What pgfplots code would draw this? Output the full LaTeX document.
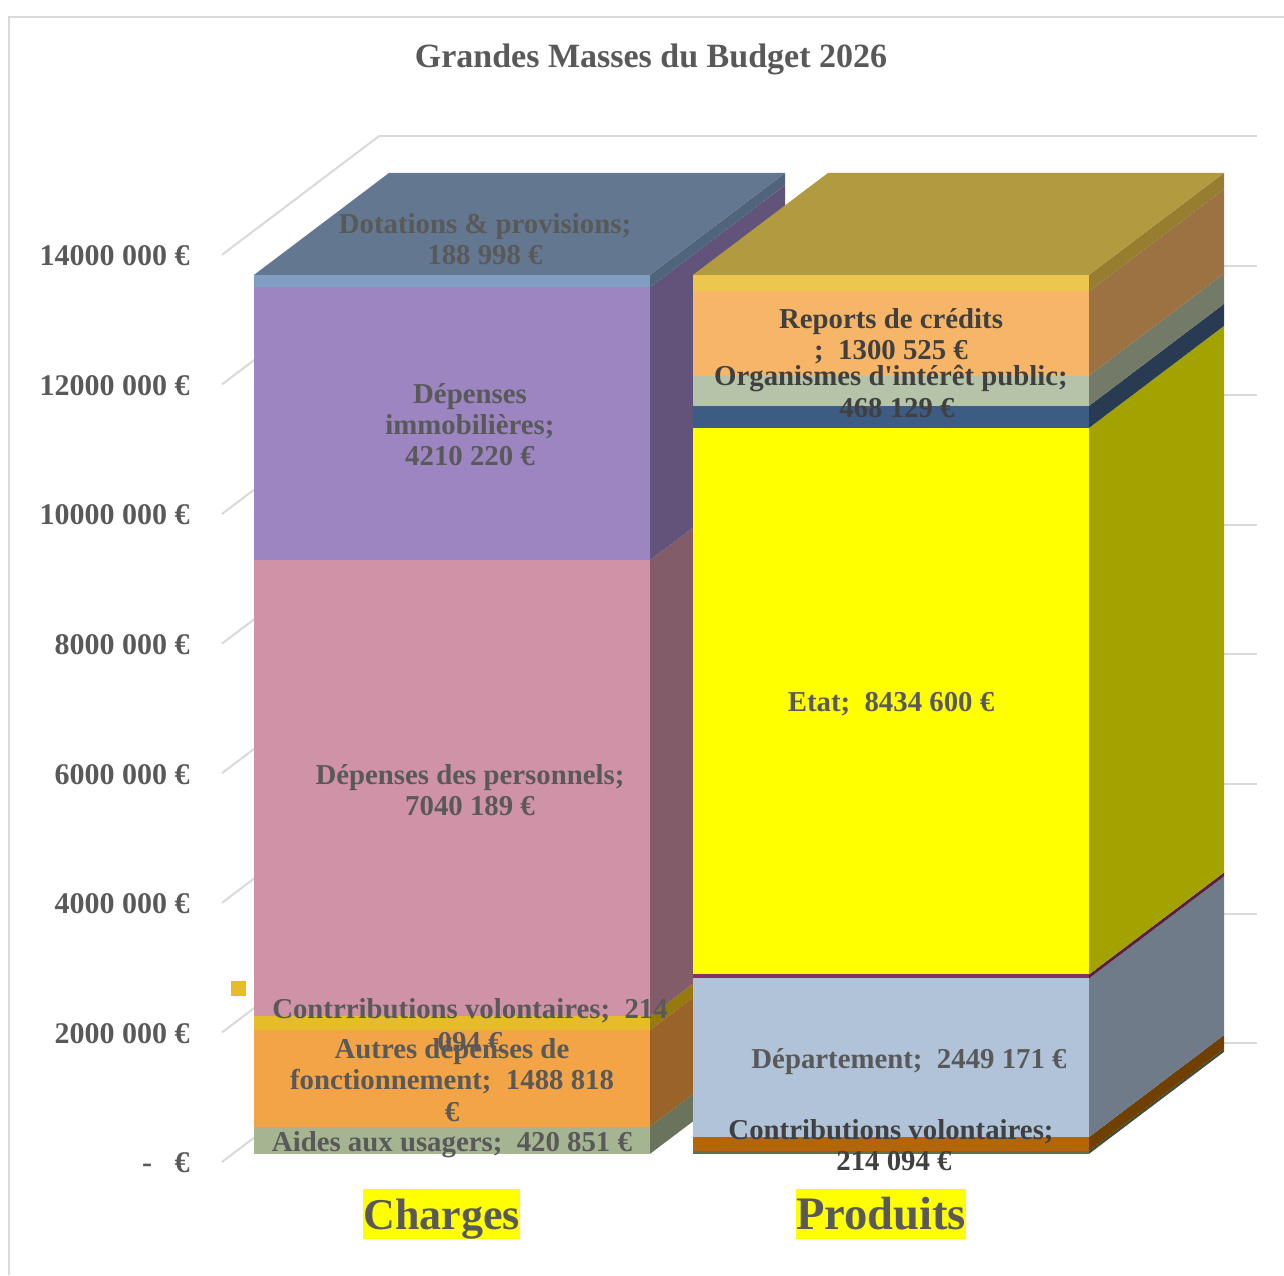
\documentclass[border=0pt]{standalone}
\usepackage{fontspec}
\setmainfont{Liberation Serif}
\newfontfamily\plainf{Liberation Serif}
\usepackage{pgfplots}
\pgfplotsset{compat=1.18}

\definecolor{txt}{HTML}{595959}
\definecolor{txtd}{HTML}{404040}
\definecolor{wall}{HTML}{D9D9D9}
% Charges, front / side
\definecolor{aidesF}{HTML}{A5B592}\definecolor{aidesS}{HTML}{6A735C}
\definecolor{autresF}{HTML}{F3A447}\definecolor{autresS}{HTML}{996329}
\definecolor{contrF}{HTML}{E7BC29}\definecolor{contrS}{HTML}{96790F}
\definecolor{persF}{HTML}{D092A7}\definecolor{persS}{HTML}{835C69}
\definecolor{immoF}{HTML}{9C85C0}\definecolor{immoS}{HTML}{62537A}
\definecolor{dotF}{HTML}{809EC2}\definecolor{dotS}{HTML}{50647B}
\definecolor{dotT}{HTML}{637890}
% Produits, front / side
\definecolor{ptF}{HTML}{5D7350}\definecolor{ptS}{HTML}{3E4D35}
\definecolor{volF}{HTML}{B36507}\definecolor{volS}{HTML}{703F02}
\definecolor{depF}{HTML}{B1C3D9}\definecolor{depS}{HTML}{707B8A}
\definecolor{rouF}{HTML}{8B2F62}\definecolor{rouS}{HTML}{5A1F3F}
\definecolor{etaF}{HTML}{FFFF00}\definecolor{etaS}{HTML}{A3A300}
\definecolor{bleF}{HTML}{3D5C84}\definecolor{bleS}{HTML}{283B53}
\definecolor{orgF}{HTML}{B5C3A9}\definecolor{orgS}{HTML}{737B68}
\definecolor{repF}{HTML}{F7B568}\definecolor{repS}{HTML}{9C7242}
\definecolor{hauF}{HTML}{EDC64F}\definecolor{hauS}{HTML}{967D30}
\definecolor{hauT}{HTML}{B19A3F}

% one stacked block: x left, x right, bottom, top (millions), front colour, side colour
\newcommand{\seg}[6]{%
  \addplot3[fill=#6,draw=none,forget plot] coordinates {(#2,0.08,#3)(#2,1.08,#3)(#2,1.08,#4)(#2,0.08,#4)} -- cycle;
  \addplot3[fill=#5,draw=none,forget plot] coordinates {(#1,0.08,#3)(#2,0.08,#3)(#2,0.08,#4)(#1,0.08,#4)} -- cycle;
}
\newcommand{\topf}[4]{%
  \addplot3[fill=#4,draw=none,forget plot] coordinates {(#1,0.08,#3)(#2,0.08,#3)(#2,1.08,#3)(#1,1.08,#3)} -- cycle;
}
% text line placed by its centre in image pixels
\newcommand{\lab}[4]{\node[anchor=base,inner sep=0pt,text=#3,font=\fontsize{14.4}{16}\selectfont\bfseries] at (#1,#2+10) {#4};}

\begin{document}
\begin{tikzpicture}
\path[use as bounding box] (-111pt,-56.5pt) rectangle (531pt,581pt);
\begin{axis}[
  at={(0,0)}, anchor=origin,
  x={(0.5pt,0pt)}, y={(67.5pt,51pt)}, z={(0pt,32.4pt)},
  xmin=0, xmax=878, ymin=0, ymax=1.165, zmin=0, zmax=14,
  clip=false,
  axis line style={draw=none},
  xtick=\empty, ytick=\empty,
  ztick={0,2,4,6,8,10,12,14},
  zticklabels={-\ \ \ €,2000 000 €,4000 000 €,6000 000 €,8000 000 €,10000 000 €,12000 000 €,14000 000 €},
  zticklabel style={anchor=east,xshift=-16pt,yshift=-0.5pt,font=\fontsize{15}{16}\selectfont\bfseries,text=txt,inner sep=0pt},
  major tick length=0pt,
  zmajorgrids,
  major grid style={draw=wall,line width=1pt},
  no markers,
]
% Charges
\seg{21.2}{417.2}{0}{0.420851}{aidesF}{aidesS}
\seg{21.2}{417.2}{0.420851}{1.909669}{autresF}{autresS}
\seg{21.2}{417.2}{1.909669}{2.123763}{contrF}{contrS}
\seg{21.2}{417.2}{2.123763}{9.163952}{persF}{persS}
\seg{21.2}{417.2}{9.163952}{13.374172}{immoF}{immoS}
\seg{21.2}{417.2}{13.374172}{13.56317}{dotF}{dotS}
\topf{21.2}{417.2}{13.56317}{dotT}
% Produits
\seg{460.2}{856.2}{0}{0.045}{ptF}{ptS}
\seg{460.2}{856.2}{0.045}{0.259094}{volF}{volS}
\seg{460.2}{856.2}{0.259094}{2.708265}{depF}{depS}
\seg{460.2}{856.2}{2.708265}{2.768265}{rouF}{rouS}
\seg{460.2}{856.2}{2.768265}{11.202865}{etaF}{etaS}
\seg{460.2}{856.2}{11.202865}{11.542865}{bleF}{bleS}
\seg{460.2}{856.2}{11.542865}{12.010994}{orgF}{orgS}
\seg{460.2}{856.2}{12.010994}{13.311519}{repF}{repS}
\seg{460.2}{856.2}{13.311519}{13.56317}{hauF}{hauS}
\topf{460.2}{856.2}{13.56317}{hauT}
% small legend key left over beside the bars
\addplot3[fill=contrF,draw=none,forget plot] coordinates {(9,0,2.562)(24,0,2.562)(24,0,2.793)(9,0,2.793)} -- cycle;
\end{axis}
\begin{scope}[x=0.5pt,y=-0.5pt,shift={(-222,-1162)}]
\draw[wall,line width=1pt] (9,1275) -- (9,17) -- (1284,17);
\node[anchor=base,inner sep=0pt,text=txt,font=\fontsize{17}{19}\selectfont\bfseries] at (651,68) {Grandes Masses du Budget 2026};
\lab{485}{224}{txt}{Dotations \& provisions;}
\lab{485}{255}{txt}{188 998 €}
\lab{470}{394}{txt}{Dépenses}
\lab{470}{425}{txt}{immobilières;}
\lab{470}{456}{txt}{4210 220 €}
\lab{470}{774}{txt}{Dépenses des personnels;}
\lab{470}{805}{txt}{7040 189 €}
\lab{470}{1008}{txt}{Contrributions volontaires;\ \ 214}
\lab{470}{1041}{txt}{094 €}
\lab{452}{1048}{txt}{Autres dépenses de}
\lab{452}{1079}{txt}{fonctionnement;\ \ 1488 818}
\lab{452}{1111}{txt}{€}
\lab{452}{1141}{txt}{Aides aux usagers;\ \ 420 851 €}
\lab{891}{319}{txtd}{Reports de crédits}
\lab{891}{350}{txtd}{;\ \ 1300 525 €}
\lab{891}{376}{txtd}{Organismes d{\plainf '}intérêt public;}
\lab{897}{408}{txtd}{468 129 €}
\lab{891}{702}{txt}{Etat;\ \ 8434 600 €}
\lab{909}{1058}{txt}{Département;\ \ 2449 171 €}
\lab{891}{1129}{txtd}{Contributions volontaires;}
\lab{894}{1160}{txtd}{214 094 €}
\node[fill=etaF,text=txt,inner sep=0pt,text width=78.5pt,align=center,text height=20pt,text depth=5pt,font=\fontsize{22}{24}\selectfont\bfseries] at (441.5,1214) {Charges};
\node[fill=etaF,text=txt,inner sep=0pt,text width=85pt,align=center,text height=20pt,text depth=5pt,font=\fontsize{23.3}{24}\selectfont\bfseries] at (881,1214) {Produits};
\end{scope}
\end{tikzpicture}
\end{document}
